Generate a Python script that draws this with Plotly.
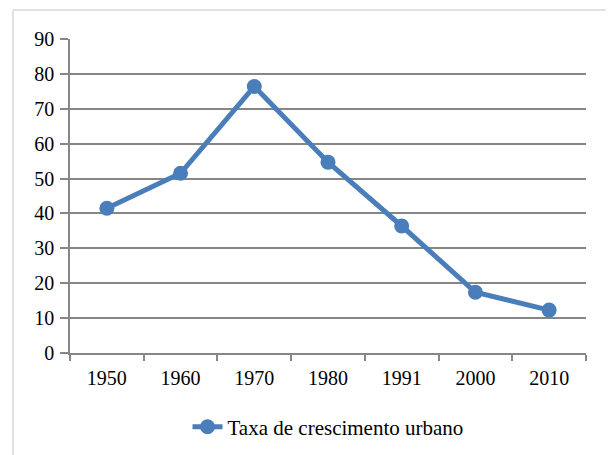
import plotly.graph_objects as go

# dados
anos = ['1950', '1960', '1970', '1980', '1991', '2000', '2010']
taxa = [41.5, 51.5, 76.4, 54.7, 36.4, 17.4, 12.3]
nome_serie = 'Taxa de crescimento urbano'

azul = '#4A7EBB'
cinza = '#868686'

fig = go.Figure()
fig.add_trace(go.Scatter(
    x=anos,
    y=taxa,
    mode='lines+markers',
    name=nome_serie,
    line=dict(color=azul, width=5),
    marker=dict(size=15, color=azul)
))

# a pagina tem 8px de margem no body, entao o figure e um pouco menor
fig.update_layout(
    width=606,
    height=447,
    margin=dict(l=62, r=28, t=31, b=102, autoexpand=False),
    paper_bgcolor='white',
    plot_bgcolor='white',
    font=dict(family='Liberation Serif, Times New Roman, serif', size=20, color='black'),
    showlegend=True,
    legend=dict(
        orientation='h',
        x=0.5,
        xanchor='center',
        y=-0.236,
        yanchor='middle',
        font=dict(size=21)
    ),
    xaxis=dict(
        type='category',
        range=[-0.5, 6.5],
        tickson='boundaries',
        ticks='outside',
        ticklen=6,
        tickcolor=cinza,
        tickwidth=1.5,
        showline=True,
        linecolor=cinza,
        linewidth=1.5,
        showgrid=False,
        ticklabelstandoff=6,
    ),
    yaxis=dict(
        range=[0, 90],
        dtick=10,
        ticks='outside',
        ticklen=8,
        tickcolor=cinza,
        tickwidth=1.5,
        showline=True,
        linecolor=cinza,
        linewidth=1.5,
        gridcolor=cinza,
        gridwidth=1.5,
        zeroline=False,
        ticklabelstandoff=2,
    ),
    shapes=[
        # moldura clara em volta do grafico
        dict(type='line', xref='paper', yref='paper', x0=-0.1105, x1=-0.1105, y0=1.092, y1=-0.4,
             line=dict(color='#d9d9d9', width=1.5)),
        dict(type='line', xref='paper', yref='paper', x0=-0.1105, x1=1.1, y0=1.092, y1=1.092,
             line=dict(color='#d9d9d9', width=1.5)),
    ]
)

fig.write_html('out.html')
